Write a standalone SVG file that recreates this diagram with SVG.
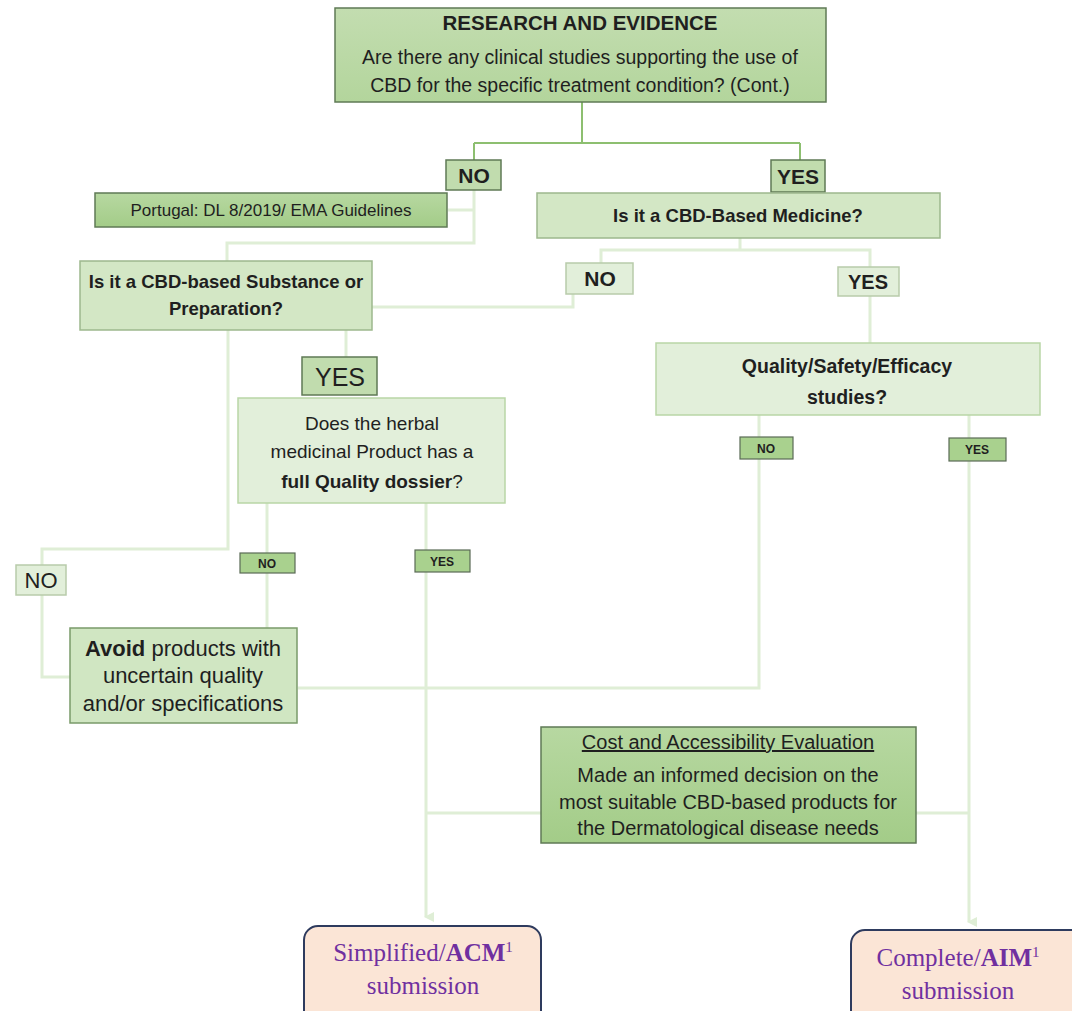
<svg xmlns="http://www.w3.org/2000/svg" width="1072" height="1011" viewBox="0 0 1072 1011">
<style>
text{font-family:"Liberation Sans",Arial,sans-serif;fill:#1f1f1f;text-anchor:middle}
.b{font-weight:bold}
.dk{stroke:#5f7a55;stroke-width:1.5}
.lt{stroke:#b9d6a6;stroke-width:1.5}
.c{fill:none;stroke:#dfeed6;stroke-width:3}
.c2{fill:none;stroke:#8dbf70;stroke-width:2}
.out{fill:#fbe5d6;stroke:#2e3b5e;stroke-width:2}
.ot{font-family:"Liberation Serif","Times New Roman",serif;fill:#7030a0;font-size:25px}
</style>
<defs>
<linearGradient id="g1" x1="0" y1="0" x2="0" y2="1"><stop offset="0" stop-color="#c3ddb0"/><stop offset="1" stop-color="#b3d59c"/></linearGradient>
<linearGradient id="g2" x1="0" y1="0" x2="0" y2="1"><stop offset="0" stop-color="#b7d8a1"/><stop offset="1" stop-color="#a3cc88"/></linearGradient>
<marker id="ar" markerWidth="10" markerHeight="10" refX="5" refY="8" orient="auto" markerUnits="userSpaceOnUse"><path d="M0,0 L10,0 L5,10 Z" fill="#dfeed6"/></marker>
</defs>
<rect width="1072" height="1011" fill="#fff"/>
<g id="connectors">
<path class="c2" d="M582,102 V143 M474,143 H800 M474,143 V160 M800,143 V160"/>
<path class="c" d="M474,190 V243 H227 V261 M448,210 H474"/>
<path class="c" d="M372,307 H573 V294"/>
<path class="c" d="M740,238 V250 H601 V263 M740,250 H870 V267 M870,296 V343"/>
<path class="c" d="M346,330 V357"/>
<path class="c" d="M228,330 V549 H42 V565 M42,595 V677 H70"/>
<path class="c" d="M267,503 V628"/>
<path class="c" d="M759,415 V688 H298"/>
<path class="c" d="M426,503 V917" marker-end="url(#ar)"/>
<path class="c" d="M426,813 H541"/>
<path class="c" d="M969,415 V922" marker-end="url(#ar)"/>
<path class="c" d="M916,813 H969"/>
</g>
<g id="n-research"><rect x="335" y="8" width="491" height="94" fill="url(#g1)" class="dk"/>
<text x="580" y="30" class="b" font-size="20.5">RESEARCH AND EVIDENCE</text>
<text x="580" y="64" font-size="19.5">Are there any clinical studies supporting the use of</text>
<text x="580" y="92" font-size="19.5">CBD for the specific treatment condition? (Cont.)</text></g>
<g id="n-no1"><rect x="446" y="160" width="55" height="30" fill="#c1dcae" class="dk"/><text x="474" y="183" class="b" font-size="21">NO</text></g>
<g id="n-yes1"><rect x="771" y="160" width="54" height="32" fill="#c1dcae" class="dk"/><text x="798" y="184" class="b" font-size="21">YES</text></g>
<g id="n-portugal"><rect x="95" y="193" width="352" height="34" fill="url(#g2)" class="dk"/><text x="271" y="216" font-size="17">Portugal: DL 8/2019/ EMA Guidelines</text></g>
<g id="n-medicine"><rect x="537" y="193" width="403" height="45" fill="#d3e7c5" stroke="#9db88d" stroke-width="1.5"/><text x="738" y="222" class="b" font-size="18.5">Is it a CBD-Based Medicine?</text></g>
<g id="n-substance"><rect x="80" y="261" width="292" height="69" fill="#d3e7c5" stroke="#9db88d" stroke-width="1.5"/>
<text x="226" y="288" class="b" font-size="18.5">Is it a CBD-based Substance or</text>
<text x="226" y="315" class="b" font-size="18.5">Preparation?</text></g>
<g id="n-no2"><rect x="566" y="263" width="67" height="31" fill="#e2efda" stroke="#b8cbaa" stroke-width="1.5"/><text x="600" y="286" class="b" font-size="21">NO</text></g>
<g id="n-yes2"><rect x="838" y="267" width="61" height="29" fill="#e2efda" stroke="#b8cbaa" stroke-width="1.5"/><text x="868" y="289" class="b" font-size="20">YES</text></g>
<g id="n-yes3"><rect x="302" y="357" width="75" height="38" fill="#c1dcae" class="dk"/><text x="340" y="386" font-size="25">YES</text></g>
<g id="n-herbal"><rect x="238" y="398" width="267" height="105" fill="#e2efda" class="lt"/>
<text x="372" y="430" font-size="19">Does the herbal</text>
<text x="372" y="458" font-size="19">medicinal Product has a</text>
<text x="372" y="488" font-size="19"><tspan class="b">full Quality dossier</tspan>?</text></g>
<g id="n-quality"><rect x="656" y="343" width="384" height="72" fill="#e2efda" class="lt"/>
<text x="847" y="373" class="b" font-size="19.5">Quality/Safety/Efficacy</text>
<text x="847" y="404" class="b" font-size="19.5">studies?</text></g>
<g id="n-no3"><rect x="740" y="437" width="53" height="22" fill="#a9d18e" stroke="#5a6a55" stroke-width="1.2"/><text x="766" y="453" class="b" font-size="12">NO</text></g>
<g id="n-yes4"><rect x="949" y="438" width="57" height="23" fill="#a9d18e" stroke="#5a6a55" stroke-width="1.2"/><text x="977" y="454" class="b" font-size="12">YES</text></g>
<g id="n-no4"><rect x="240" y="553" width="55" height="20" fill="#a9d18e" stroke="#5a6a55" stroke-width="1.2"/><text x="267" y="568" class="b" font-size="12">NO</text></g>
<g id="n-yes5"><rect x="415" y="550" width="55" height="22" fill="#a9d18e" stroke="#5a6a55" stroke-width="1.2"/><text x="442" y="566" class="b" font-size="12">YES</text></g>
<g id="n-no5"><rect x="16" y="565" width="50" height="30" fill="#e2efda" stroke="#b8cbaa" stroke-width="1.5"/><text x="41" y="588" font-size="22">NO</text></g>
<g id="n-avoid"><rect x="70" y="628" width="227" height="95" fill="#d0e6c2" stroke="#7a9a6a" stroke-width="1.5"/>
<text x="183" y="656" font-size="22"><tspan class="b">Avoid</tspan> products with</text>
<text x="183" y="683" font-size="22">uncertain quality</text>
<text x="183" y="711" font-size="22">and/or specifications</text></g>
<g id="n-cost"><rect x="541" y="727" width="375" height="116" fill="url(#g2)" class="dk"/>
<text x="728" y="749" font-size="20" text-decoration="underline">Cost and Accessibility Evaluation</text>
<text x="728" y="782" font-size="20">Made an informed decision on the</text>
<text x="728" y="809" font-size="20">most suitable CBD-based products for</text>
<text x="728" y="835" font-size="20">the Dermatological disease needs</text></g>
<g id="n-simplified"><rect x="304" y="926" width="237" height="100" rx="14" class="out"/>
<text x="423" y="961" class="ot">Simplified/<tspan font-weight="bold">ACM</tspan><tspan font-size="15" dy="-9">1</tspan></text>
<text x="423" y="994" class="ot">submission</text></g>
<g id="n-complete"><rect x="851" y="930" width="240" height="100" rx="14" class="out"/>
<text x="958" y="966" class="ot">Complete/<tspan font-weight="bold">AIM</tspan><tspan font-size="15" dy="-9">1</tspan></text>
<text x="958" y="999" class="ot">submission</text></g>
</svg>
